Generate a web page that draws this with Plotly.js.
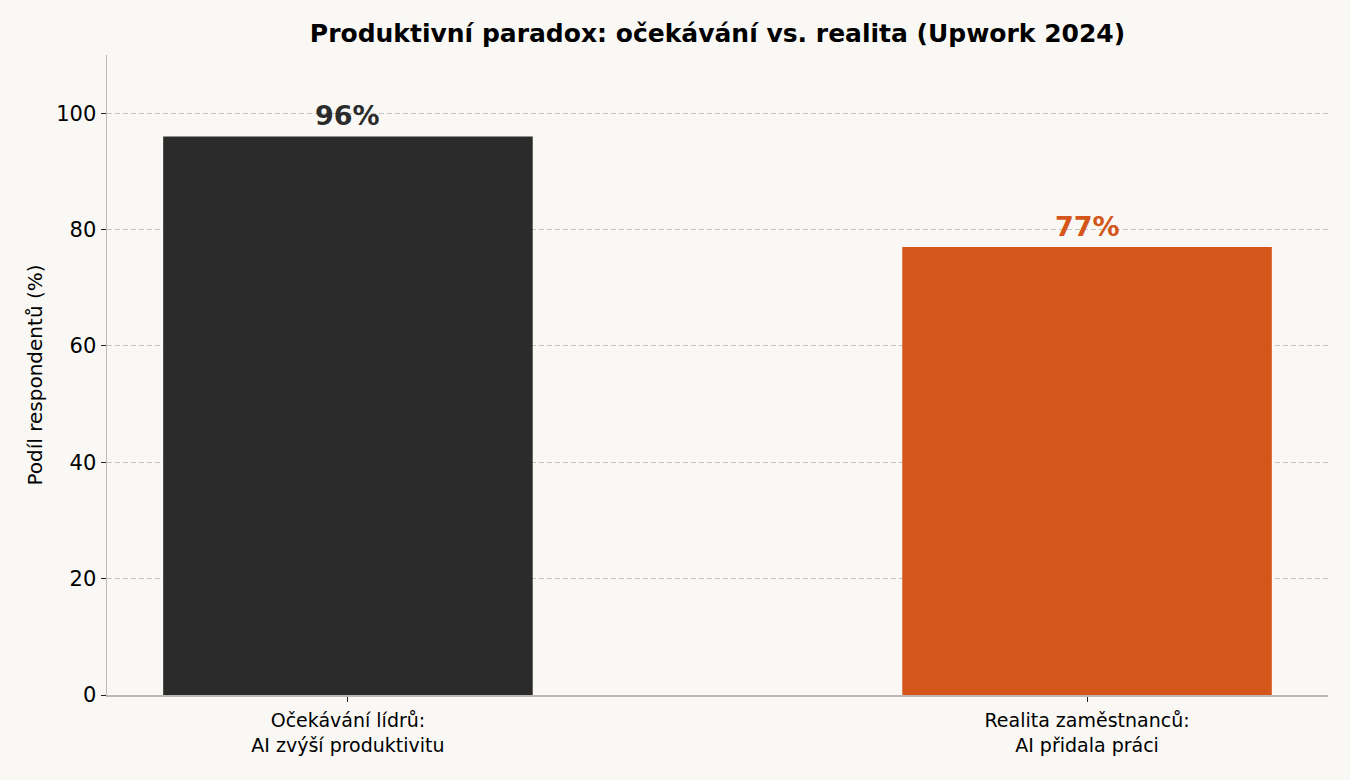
<!DOCTYPE html>
<html>
<head>
<meta charset="utf-8">
<script src="https://cdn.plot.ly/plotly-3.0.1.min.js"></script>
<style>html,body{margin:0;padding:0;background:#f9f8f5;}#chart{width:1350px;height:780px;}</style>
</head>
<body>
<div id="chart"></div>
<script>
const categories = ["Očekávání lídrů:<br>AI zvýší produktivitu", "Realita zaměstnanců:<br>AI přidala práci"];
const values = [96, 77];
const valueLabels = ["96%", "77%"];
const barColors = ["#2b2b2b", "#d4561b"];
const yTicks = [0, 20, 40, 60, 80, 100];

const font = "DejaVu Sans, Verdana, sans-serif";

const trace = {
  type: "bar",
  x: [0, 1],
  y: values,
  width: 0.5,
  marker: {color: barColors, line: {width: 0}},
  hoverinfo: "skip"
};

const annotations = values.map((v, i) => ({
  x: i, y: v, xref: "x", yref: "y",
  text: "<b>" + valueLabels[i] + "</b>",
  showarrow: false, yanchor: "bottom", yshift: 3,
  font: {family: font, size: 27, color: barColors[i]}
}));

const layout = {
  width: 1350, height: 780,
  paper_bgcolor: "#f9f8f5", plot_bgcolor: "#f9f8f5",
  margin: {l: 107, r: 22, t: 55, b: 85},
  showlegend: false,
  title: {text: "<b>Produktivní paradox: očekávání vs. realita (Upwork 2024)</b>",
          x: 0.5315, xanchor: "center", y: 0.957, yanchor: "middle",
          font: {family: font, size: 25, color: "#000"}},
  xaxis: {
    range: [-0.326, 1.326],
    tickvals: [0, 1], ticktext: categories,
    ticks: "outside", ticklen: 5, tickcolor: "#222", tickwidth: 1,
    ticklabelstandoff: 3,
    showline: true, linecolor: "#bdb8b1", linewidth: 1.5,
    showgrid: false, zeroline: false,
    tickfont: {family: font, size: 19, color: "#000"}
  },
  yaxis: {
    range: [0, 110],
    tickvals: yTicks,
    ticks: "outside", ticklen: 5, tickcolor: "#222", tickwidth: 1,
    showline: true, linecolor: "#bdb8b1", linewidth: 1.5,
    showgrid: true, gridcolor: "#c8c3bc", griddash: "5px,3px", gridwidth: 1,
    zeroline: false,
    tickfont: {family: font, size: 21, color: "#000"},
    title: {text: "Podíl respondentů (%)", standoff: 8,
            font: {family: font, size: 20, color: "#000"}}
  },
  annotations: annotations
};

Plotly.newPlot("chart", [trace], layout, {displayModeBar: false, staticPlot: true});
</script>
</body>
</html>
